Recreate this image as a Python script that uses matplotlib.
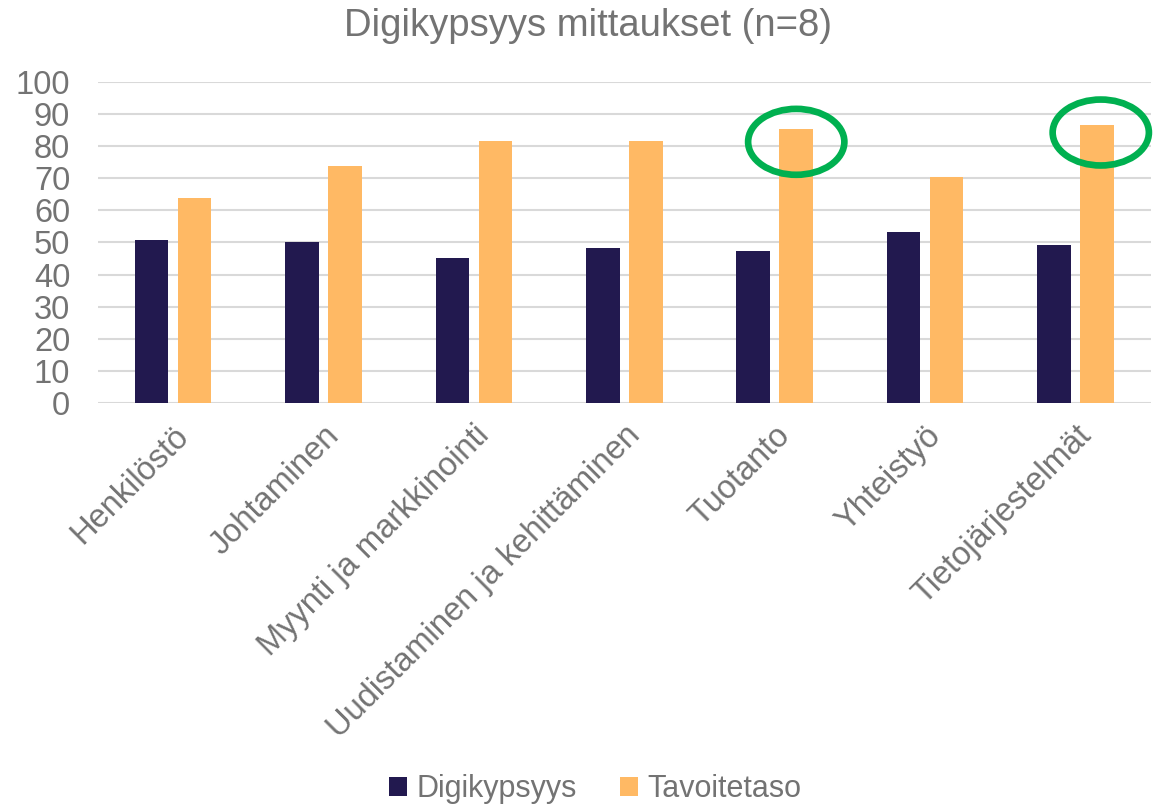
import numpy as np
import matplotlib
matplotlib.use("Agg")
import matplotlib.pyplot as plt
from matplotlib.patches import Ellipse

categories = ["Henkilöstö", "Johtaminen", "Myynti ja markkinointi",
              "Uudistaminen ja kehittäminen", "Tuotanto", "Yhteistyö",
              "Tietojärjestelmät"]
digikypsyys = [50.8, 50.0, 45.2, 48.2, 47.3, 53.4, 49.1]
tavoitetaso = [63.9, 73.9, 81.6, 81.6, 85.3, 70.4, 86.4]
yticks = [0, 10, 20, 30, 40, 50, 60, 70, 80, 90, 100]

TEXT = "#737373"
DARK = "#22194f"
ORANGE = "#ffb964"
GREEN = "#00b050"

plt.rcParams["font.family"] = ["Liberation Sans", "DejaVu Sans"]

fig = plt.figure(figsize=(11.61, 8.06), dpi=100)
ax = fig.add_axes([98 / 1161, 1 - 403.3 / 806, (1150.7 - 98) / 1161, (403.3 - 81.7) / 806])

x = np.arange(len(categories))
w = 0.223
off = 0.143
ax.bar(x - off, digikypsyys, w, color=DARK, label="Digikypsyys", zorder=3)
ax.bar(x + off, tavoitetaso, w, color=ORANGE, label="Tavoitetaso", zorder=3)

# highlight circles around the highest targets
for i, cy, dx in [(4, 81.3, 0.0), (6, 84.2, 0.025)]:
    e = Ellipse((x[i] + off + dx, cy), 0.64, 20.5, fill=False,
                edgecolor=GREEN, linewidth=4.8, zorder=5, clip_on=False)
    ax.add_patch(e)

ax.set_xlim(-0.5, len(categories) - 0.5)
ax.set_ylim(0, 100)
ax.set_yticks(yticks)
ax.yaxis.grid(True, color="#d9d9d9", linewidth=1.5, zorder=0)
for s in ax.spines.values():
    s.set_visible(False)
ax.tick_params(axis="both", length=0, labelsize=23.5, labelcolor=TEXT)
ax.tick_params(axis="y", pad=20)
ax.set_xticks(x)
ax.set_xticklabels(categories, rotation=45, ha="right", va="top",
                   rotation_mode="anchor")
ax.tick_params(axis="x", pad=12)

fig.text(588 / 1161, 1 - 26 / 806, "Digikypsyys mittaukset (n=8)",
         fontsize=27.5, color=TEXT, ha="center", va="center")

leg = fig.legend(loc="center", bbox_to_anchor=(595 / 1161, 1 - 789 / 806),
                 ncol=2, frameon=False, fontsize=22, handlelength=0.6,
                 handleheight=0.6, handletextpad=0.3, columnspacing=1.4)
for t in leg.get_texts():
    t.set_color(TEXT)

fig.savefig("out.png", dpi=100)
